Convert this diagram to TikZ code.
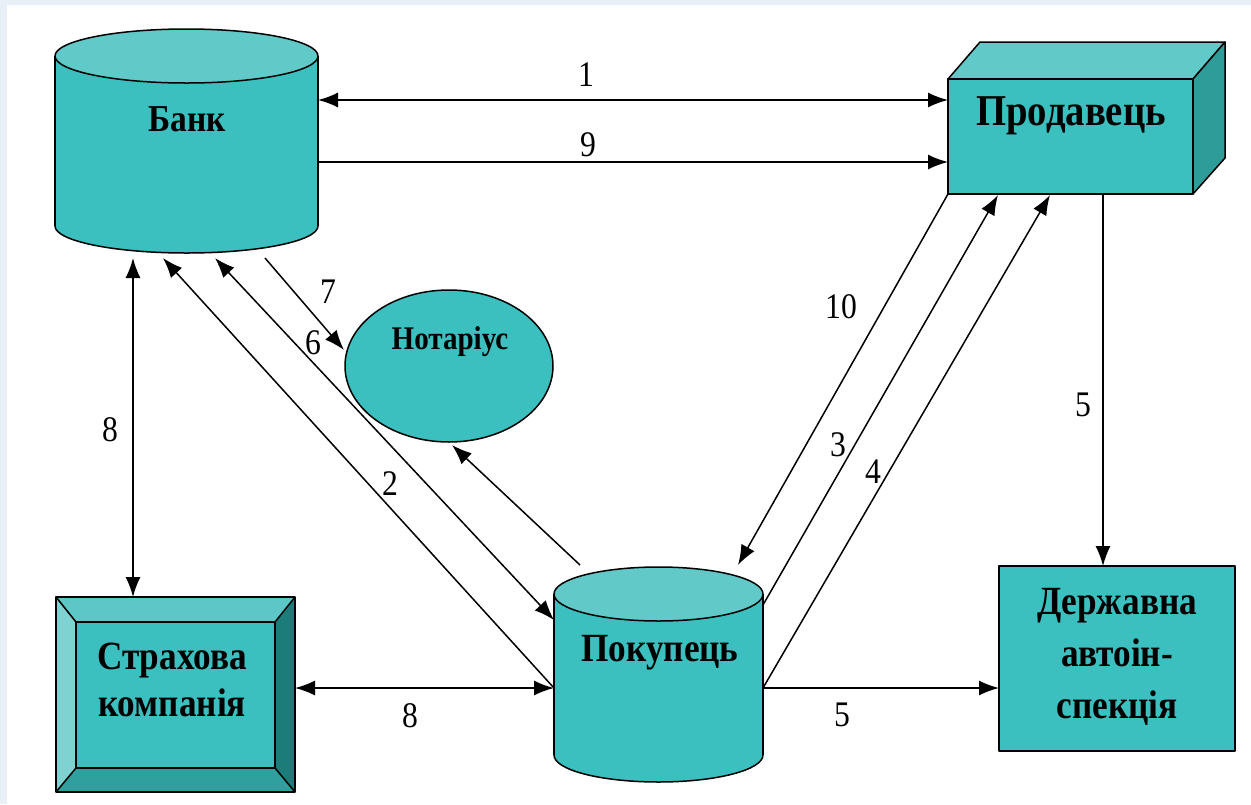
\documentclass[tikz,border=0pt]{standalone}
\usepackage{fontspec}
\setmainfont{Liberation Serif}[FakeStretch=0.88]
\usetikzlibrary{arrows.meta}

\definecolor{tealbody}{RGB}{59,191,191}
\definecolor{tealtop}{RGB}{98,201,201}
\definecolor{tealside}{RGB}{46,156,153}
\definecolor{bevlight}{RGB}{127,210,210}
\definecolor{bevtop}{RGB}{93,199,199}
\definecolor{bevdark}{RGB}{27,124,121}
\definecolor{bevbottom}{RGB}{47,160,157}
\definecolor{pagebg}{RGB}{233,239,247}

\tikzset{
  outl/.style={draw=black, line width=1.5pt, line join=round},
  conn/.style={line width=1.5pt},
  title/.style={font=\bfseries\fontsize{40}{47}\selectfont, align=center, inner sep=0pt},
  num/.style={font=\fontsize{36}{40}\selectfont, inner sep=0pt},
  tipend/.tip={Latex[length=20pt,width=15pt]}
}

\begin{document}
\begin{tikzpicture}[x=1pt,y=-1pt]
\useasboundingbox (0,0) rectangle (1251,804);
\fill[pagebg] (0,0) rectangle (1251,804);
\fill[white] (7,5) rectangle (1251,804);

% Bank: cylinder
\path[outl, fill=tealbody] (186.5,226) ellipse [x radius=131.5, y radius=27];
\fill[tealbody] (55,56) rectangle (318,226);
\draw[outl] (55,56) -- (55,226) (318,56) -- (318,226);
\path[outl, fill=tealtop] (186.5,56) ellipse [x radius=131.5, y radius=27];
\node[title, font=\bfseries\fontsize{38}{44}\selectfont] (bank) at (187,119) {Банк};

% Seller: box
\path[outl, fill=tealtop] (948,79) -- (980,42) -- (1225,42) -- (1193,79) -- cycle;
\path[outl, fill=tealside] (1193,79) -- (1225,42) -- (1225,158) -- (1193,194) -- cycle;
\path[outl, fill=tealbody] (948,79) rectangle (1193,194);
\node[title, font=\bfseries\fontsize{44}{50}\selectfont] (seller) at (1071,116) {Продавець};

% Notary: ellipse
\path[outl, fill=tealbody] (449,366) ellipse [x radius=104, y radius=76];
\node[title, font=\bfseries\fontsize{33}{40}\selectfont] (notary) at (450,342) {Нотаріус};

% Buyer: cylinder
\path[outl, fill=tealbody] (658.5,755) ellipse [x radius=104.5, y radius=27];
\fill[tealbody] (554,594) rectangle (763,755);
\draw[outl] (554,594) -- (554,755) (763,594) -- (763,755);
\path[outl, fill=tealtop] (658.5,594) ellipse [x radius=104.5, y radius=27];
\node[title] (buyer) at (660,653) {Покупець};

% Insurance company: bevelled frame
\fill[bevtop] (56,597) -- (295,597) -- (275,622) -- (76,622) -- cycle;
\fill[bevlight] (56,597) -- (76,622) -- (76,768) -- (56,792) -- cycle;
\fill[bevdark] (295,597) -- (295,792) -- (275,768) -- (275,622) -- cycle;
\fill[bevbottom] (56,792) -- (76,768) -- (275,768) -- (295,792) -- cycle;
\path[outl, fill=tealbody] (76,622) rectangle (275,768);
\draw[outl] (56,597) -- (76,622) (295,597) -- (275,622)
            (56,792) -- (76,768) (295,792) -- (275,768);
\draw[outl] (56,597) rectangle (295,792);
\node[title] (insurer) at (172,680) {Страхова\\компанія};

% State traffic inspection
\path[outl, fill=tealbody] (999,566) rectangle (1235,751);
\node[title, font=\bfseries\fontsize{40}{52}\selectfont] (inspect) at (1117,657) {Державна\\автоін-\\спекція};

% connector end points
\coordinate (b1) at (318,100);  \coordinate (s1) at (948,100);
\coordinate (b9) at (318,162);  \coordinate (s9) at (948,162);
\coordinate (b8) at (133,258);  \coordinate (i8) at (133,597);
\coordinate (i8h) at (295,688); \coordinate (p8) at (554,688);
\coordinate (b2) at (163,258);  \coordinate (p2) at (554,688);
\coordinate (b6) at (215,258);  \coordinate (p6) at (554,620);
\coordinate (b7) at (265,258);  \coordinate (n7) at (344,350);
\coordinate (pn) at (580,565);  \coordinate (nn) at (452,445);
\coordinate (s10) at (948,194); \coordinate (p10) at (738,565);
\coordinate (p3) at (763,605);  \coordinate (s3) at (998,195);
\coordinate (p4) at (763,688);  \coordinate (s4) at (1050,195);
\coordinate (s5) at (1103,194); \coordinate (d5) at (1103,566);
\coordinate (p5) at (763,688);  \coordinate (d5h) at (999,688);

% connectors
\draw[conn, {tipend}-{tipend}] (b1) -- (s1);
\draw[conn, -{tipend}] (b9) -- (s9);
\draw[conn, {tipend}-{tipend}] (b8) -- (i8);
\draw[conn, {tipend}-{tipend}] (i8h) -- (p8);
\draw[conn, {tipend}-] (b2) -- (p2);
\draw[conn, {tipend}-{tipend}] (b6) -- (p6);
\draw[conn, -{tipend}] (b7) -- (n7);
\draw[conn, -{tipend}] (pn) -- (nn);
\draw[conn, -{tipend}] (s10) -- (p10);
\draw[conn, -{tipend}] (p3) -- (s3);
\draw[conn, -{tipend}] (p4) -- (s4);
\draw[conn, -{tipend}] (s5) -- (d5);
\draw[conn, -{tipend}] (p5) -- (d5h);

% connector numbers
\node[num] (l1) at (586,75) {1};
\node[num] (l9) at (588,145) {9};
\node[num] (l7) at (328,292) {7};
\node[num] (l6) at (313,343) {6};
\node[num] (l2) at (390,484) {2};
\node[num] (l8v) at (110,430) {8};
\node[num] (l8h) at (410,716) {8};
\node[num] (l10) at (841,307) {10};
\node[num] (l3) at (838,445) {3};
\node[num] (l4) at (873,472) {4};
\node[num] (l5v) at (1083,405) {5};
\node[num] (l5h) at (842,715) {5};
\end{tikzpicture}
\end{document}
